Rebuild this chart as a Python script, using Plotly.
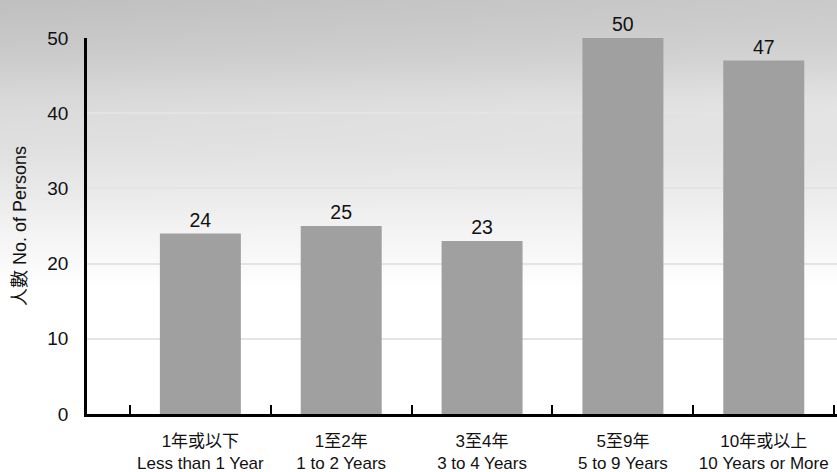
import base64
import struct
import zlib

import numpy as np
import plotly.graph_objects as go

# Data
categories_zh = ["1年或以下", "1至2年", "3至4年", "5至9年", "10年或以上"]
categories_en = ["Less than 1 Year", "1 to 2 Years", "3 to 4 Years", "5 to 9 Years", "10 Years or More"]
persons = [24, 25, 23, 50, 47]
y_ticks = [0, 10, 20, 30, 40, 50]

W, H = 837, 472
L, T, B = 87, 38, 58
PW, PH = W - L, H - T - B


def sky_png(w, h):
    """Grey overcast-sky backdrop: darker at the top, fading to white lower down."""
    yy, xx = np.mgrid[0:h, 0:w]
    fy = yy / (h - 1)
    fx = xx / (w - 1)
    base = 202 + 54 * np.clip(fy / 0.62, 0, 1) ** 1.1
    shade = -10 * (1 - fx) * np.clip(1 - fy / 0.5, 0, 1)
    band = 8 * np.exp(-((fy - 0.22) / 0.07) ** 2) * (0.5 + 0.5 * fx)
    img = np.clip(base + shade + band, 0, 255).astype(np.uint8)
    raw = b"".join(b"\x00" + img[r].tobytes() for r in range(h))

    def chunk(tag, data):
        c = tag + data
        return struct.pack(">I", len(data)) + c + struct.pack(">I", zlib.crc32(c) & 0xFFFFFFFF)

    png = b"\x89PNG\r\n\x1a\n"
    png += chunk(b"IHDR", struct.pack(">IIBBBBB", w, h, 8, 0, 0, 0, 0))
    png += chunk(b"IDAT", zlib.compress(raw, 9))
    png += chunk(b"IEND", b"")
    return "data:image/png;base64," + base64.b64encode(png).decode()


labels = [f"{zh}<br>{en}" for zh, en in zip(categories_zh, categories_en)]

fig = go.Figure(
    go.Bar(
        x=labels,
        y=persons,
        width=0.575,
        marker=dict(color="#a0a0a0", line=dict(width=0)),
        text=[str(v) for v in persons],
        textposition="outside",
        textfont=dict(size=19.5, color="#111111"),
        cliponaxis=False,
    )
)

font_family = "Liberation Sans, Arial, Noto Sans CJK TC, sans-serif"

fig.update_layout(
    width=W,
    height=H,
    margin=dict(l=L, r=0, t=T, b=B),
    paper_bgcolor="white",
    plot_bgcolor="rgba(0,0,0,0)",
    font=dict(family=font_family, color="#111111"),
    showlegend=False,
    images=[
        dict(
            source=sky_png(W, H),
            xref="paper",
            yref="paper",
            x=-L / PW,
            y=(H - B) / PH,
            sizex=W / PW,
            sizey=H / PH,
            xanchor="left",
            yanchor="top",
            sizing="stretch",
            layer="below",
        )
    ],
)

fig.update_xaxes(
    type="category",
    range=[-0.805, 4.52],
    automargin=False,
    tickangle=0,
    showline=True,
    linecolor="black",
    linewidth=2.5,
    ticks="inside",
    tickson="boundaries",
    ticklen=9,
    tickwidth=2,
    tickcolor="black",
    showgrid=False,
    ticklabelstandoff=10,
    tickfont=dict(size=17, color="#111111"),
    fixedrange=True,
)

fig.update_yaxes(
    range=[0, 50],
    automargin=False,
    tickvals=y_ticks,
    showline=True,
    linecolor="black",
    linewidth=2.5,
    showgrid=True,
    gridcolor="#e4e4e4",
    gridwidth=2,
    zeroline=False,
    ticks="",
    ticklabelstandoff=12,
    tickfont=dict(size=19, color="#111111"),
    title=dict(text="人數 No. of Persons", font=dict(size=18, color="#111111"), standoff=17),
    fixedrange=True,
)

fig.write_html("out.html")
